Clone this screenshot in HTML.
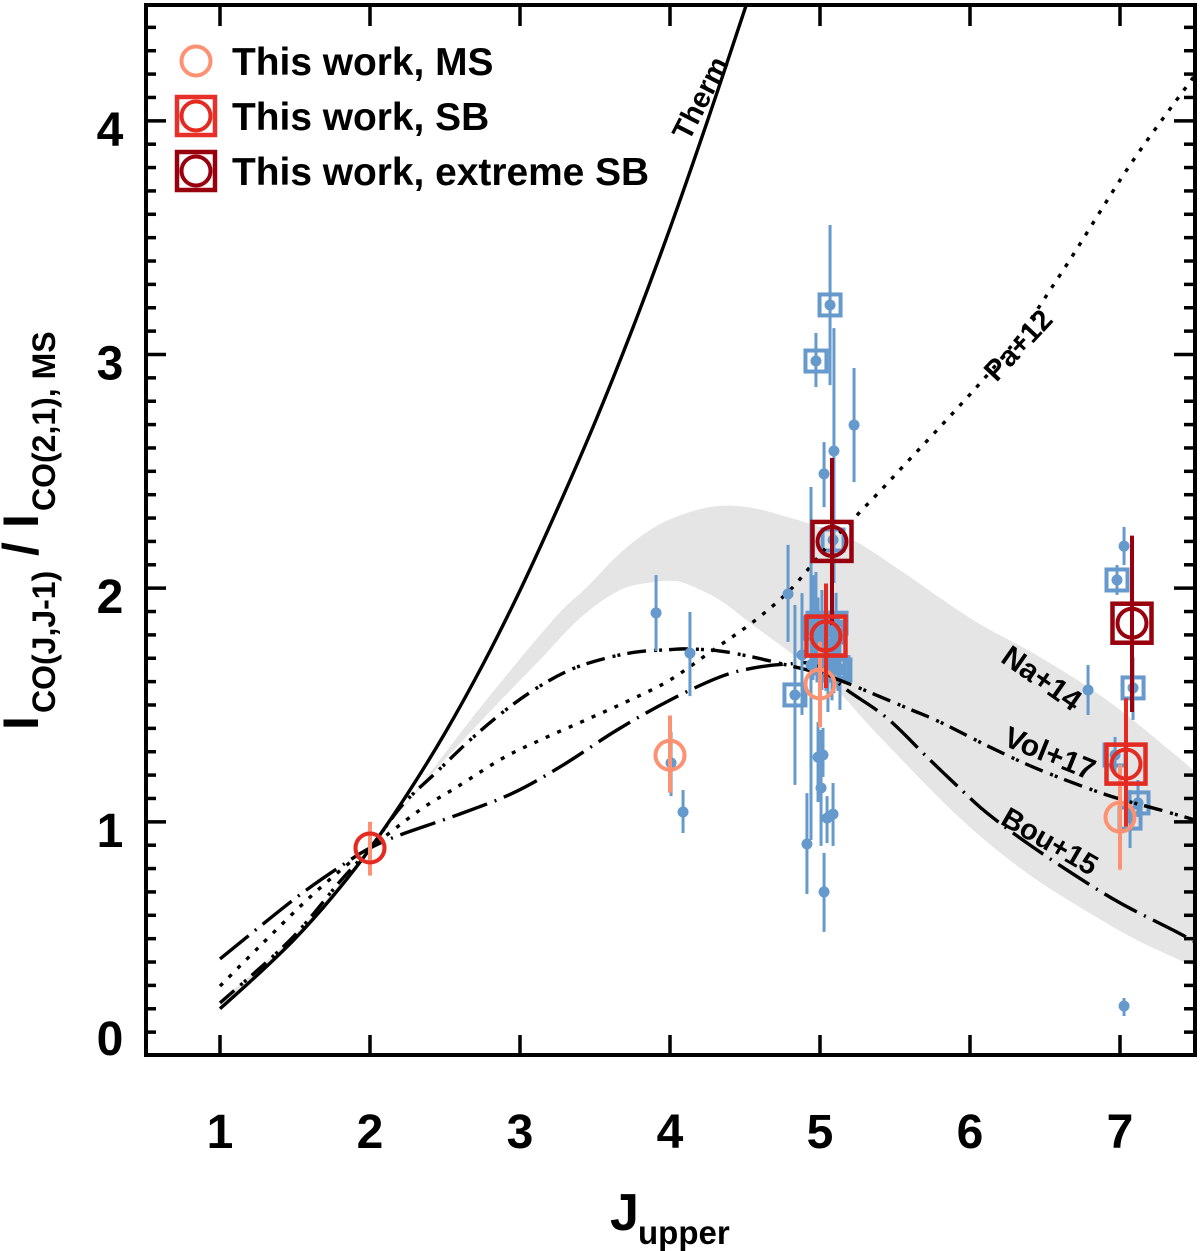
<!DOCTYPE html>
<html lang="en">
<head>
<meta charset="utf-8">
<title>CO line ratio chart</title>
<style>
html,body{margin:0;padding:0;background:#fff;width:1200px;height:1251px;overflow:hidden}
svg{display:block;font-family:"Liberation Sans",sans-serif;font-weight:bold}
</style>
</head>
<body>
<svg id="chart" xmlns="http://www.w3.org/2000/svg" width="1200" height="1251" viewBox="0 0 1200 1251">
  <defs><clipPath id="plot-clip"><rect x="146" y="5" width="1049" height="1050"/></clipPath></defs>
  <rect width="1200" height="1251" fill="#fff"/>
  <g id="band" clip-path="url(#plot-clip)"></g>
  <g id="blue-squares"></g>
  <g id="curves" clip-path="url(#plot-clip)"></g>
  <g id="blue-dots"></g>
  <g id="colored"></g>
  <g id="axes"></g>

  <g font-size="30" fill="#000" text-anchor="middle">
    <text transform="translate(700,98) rotate(-63)" dy="0.35em" font-size="29">Therm</text>
    <text transform="translate(1018,345) rotate(-47)" dy="0.35em" font-size="29">Pa+12</text>
    <text transform="translate(1042,678) rotate(35)" dy="0.35em">Na+14</text>
    <text transform="translate(1050,753) rotate(22)" dy="0.35em">Vol+17</text>
    <text transform="translate(1050,841) rotate(30)" dy="0.35em" font-size="29">Bou+15</text>
  </g>

  <g font-size="38.9" fill="#000">
    <g>
      <circle cx="196" cy="61" r="14.5" fill="none" stroke="#fc9272" stroke-width="4"/>
      <text x="232" y="75">This work, MS</text>
    </g>
    <g>
      <rect x="177" y="97" width="38" height="38" fill="none" stroke="#e8302a" stroke-width="4.5"/>
      <circle cx="196" cy="116" r="14.5" fill="none" stroke="#e32b22" stroke-width="4"/>
      <text x="232" y="130">This work, SB</text>
    </g>
    <g>
      <rect x="177" y="152" width="38" height="38" fill="none" stroke="#99000d" stroke-width="4.5"/>
      <circle cx="196" cy="171" r="14.5" fill="none" stroke="#99000d" stroke-width="4"/>
      <text x="232" y="185">This work, extreme SB</text>
    </g>
  </g>

  <g fill="#000">
    <text transform="translate(38,730) rotate(-90)" font-size="50">I</text>
    <text transform="translate(55,713) rotate(-90)" font-size="32">CO(J,J-1)</text>
    <text transform="translate(38,556) rotate(-90)" font-size="50">/</text>
    <text transform="translate(38,528) rotate(-90)" font-size="50">I</text>
    <text transform="translate(55,511) rotate(-90)" font-size="32">CO(2,1), MS</text>
  </g>
  <g fill="#000">
    <text x="610" y="1230" font-size="52">J</text>
    <text x="638" y="1244" font-size="33">upper</text>
  </g>
</svg>
<script>
// ---- axis tick data ----
var xTickLabels = [1, 2, 3, 4, 5, 6, 7];
var yTickLabels = [0, 1, 2, 3, 4];
var yMinorTicks = [0.1,0.2,0.3,0.4,0.5,0.6,0.7,0.8,0.9,1.1,1.2,1.3,1.4,1.5,1.6,1.7,1.8,1.9,2.1,2.2,2.3,2.4,2.5,2.6,2.7,2.8,2.9,3.1,3.2,3.3,3.4,3.5,3.6,3.7,3.8,3.9,4.1,4.2,4.3,4.4];

// ---- model curves: J values and ratios ----
var thermJ = [1,1.25,1.5,1.75,2,2.25,2.5,2.75,3,3.25,3.5,3.75,4,4.25,4.5,4.6];
var thermI = [0.2,0.345,0.5,0.68,0.885,1.12,1.38,1.67,1.99,2.34,2.71,3.11,3.54,4.0,4.48,4.68];

var volJ = [1,1.467,1.8,2,2.22,2.447,2.667,2.887,3.113,3.333,3.553,3.78,4.0,4.113,4.333,4.553,4.78,4.967,5.18,5.58,5.8,6.133,6.467,6.913,7.267,7.5];
var volI = [0.225,0.494,0.745,0.888,1.075,1.215,1.35,1.47,1.573,1.65,1.697,1.727,1.737,1.74,1.731,1.705,1.671,1.641,1.594,1.487,1.427,1.32,1.222,1.115,1.051,1.008];

var bouJ = [1,1.513,1.847,2,2.2,2.58,2.953,3.287,3.647,4.0,4.333,4.553,4.78,4.967,5.18,5.447,5.733,6.0,6.113,6.333,6.667,7.0,7.353,7.5];
var bouI = [0.413,0.678,0.828,0.888,0.944,1.029,1.123,1.243,1.393,1.521,1.62,1.658,1.675,1.671,1.564,1.444,1.265,1.102,1.038,0.931,0.785,0.653,0.537,0.486];

var paJ = [1,1.267,1.6,1.887,2,2.333,2.58,2.887,3.153,3.467,3.733,4.0,4.287,4.553,4.78,4.933,5.067,5.247,5.513,6.2,6.6,7.067,7.5];
var paI = [0.297,0.469,0.678,0.837,0.888,1.051,1.149,1.273,1.355,1.444,1.521,1.607,1.735,1.855,1.979,2.09,2.193,2.313,2.493,2.976,3.34,3.811,4.196];

var bandUpperJ = [1,1.5,2,2.287,2.733,3.22,3.447,3.667,3.887,4.113,4.333,4.553,4.78,4.933,5.22,5.533,6.02,6.467,6.913,7.353,7.5];
var bandUpperI = [0.23,0.52,0.888,1.115,1.487,1.864,2.005,2.15,2.257,2.322,2.352,2.343,2.305,2.275,2.206,2.077,1.864,1.705,1.521,1.295,1.213];
var bandLowerJ = [1,1.5,2,2.287,2.467,2.867,3.133,3.4,3.667,3.887,4,4.113,4.333,4.553,4.78,4.967,5.133,5.4,5.933,6.38,6.82,7.113,7.5];
var bandLowerI = [0.2,0.5,0.888,1.106,1.243,1.517,1.693,1.872,1.992,2.026,2.031,2.018,1.949,1.842,1.735,1.641,1.551,1.363,1.016,0.781,0.601,0.494,0.379];

// ---- literature points with error bars ----
var squareJ    = [5.067,4.973,6.98,7.087,6.967,7.12,7.067,4.833,4.953,5.013,5.08,5.053,5.133,5.087,4.987,5.047,5.107,5.093,5.12,5.04];
var squareI    = [3.212,2.972,2.035,1.573,1.286,1.081,1.016,1.543,1.829,1.8,1.812,1.65,1.65,2.206,1.85,1.76,1.85,1.66,1.66,1.68];
var squareHigh = [3.554,3.092,2.099,1.705,1.363,1.179,1.136,1.928,2.056,1.992,2.013,1.821,1.778,2.377,1.96,1.9,1.98,1.76,1.75,1.8];
var squareLow  = [2.869,2.861,1.971,1.436,1.2,1.021,0.888,1.158,1.607,1.564,1.607,1.47,1.479,2.022,1.7,1.62,1.72,1.55,1.56,1.56];

var dotJ    = [5.093,5.227,5.027,4.787,4.88,4.94,4.973,4.987,5.02,5.007,4.913,5.047,5.087,5.027,3.907,4.133,4.007,4.087,7.027,6.787,7.027,5.0,5.1,5.08];
var dotI    = [2.587,2.698,2.489,1.975,1.714,1.671,1.864,1.277,1.286,1.145,0.905,1.016,1.033,0.7,1.894,1.722,1.252,1.042,2.18,1.564,0.212,1.78,1.78,1.66];
var dotHigh = [3.113,2.942,2.625,2.185,1.979,2.433,2.069,1.427,1.402,1.393,1.123,1.11,1.166,0.867,2.056,1.898,1.384,1.136,2.262,1.671,0.246,1.9,1.9,1.78];
var dotLow  = [2.022,2.454,2.347,1.77,1.457,0.922,1.658,1.085,1.192,0.897,0.691,0.909,0.897,0.529,1.731,1.538,1.11,0.952,2.099,1.457,0.169,1.65,1.65,1.52];

// ---- this-work points ----
var msJ = [2, 4, 5, 7];
var msI = [0.888, 1.285, 1.59, 1.02];
var msHigh = [1.0, 1.455, 1.77, 1.244];
var msLow = [0.77, 1.125, 1.405, 0.795];

var sbJ = [2, 5.04, 7.04];
var sbI = [0.888, 1.795, 1.247];
var sbHigh = [0.888, 2.02, 1.529];
var sbLow = [0.888, 1.572, 0.98];

var xsbJ = [5.08, 7.08];
var xsbI = [2.2, 1.85];
var xsbHigh = [2.557, 2.225];
var xsbLow = [1.842, 1.47];

// ---- axis functions ----
function xScale(v) { return 220 + (v - 1) * 150; }
function yScale(v) { return 1055.5 - v * 233.67; }

var NS = 'http://www.w3.org/2000/svg';
function make(tag, parent) {
  var el = document.createElementNS(NS, tag);
  parent.appendChild(el);
  return el;
}
function smoothSegments(js, is) {
  var p = js.map(function (j, k) { return [xScale(j), yScale(is[k])]; });
  var d = '';
  for (var k = 0; k < p.length - 1; k++) {
    var a = p[Math.max(k - 1, 0)], b = p[k], c = p[k + 1], e = p[Math.min(k + 2, p.length - 1)];
    d += ' C' + (b[0] + (c[0] - a[0]) / 6).toFixed(2) + ',' + (b[1] + (c[1] - a[1]) / 6).toFixed(2) +
         ' ' + (c[0] - (e[0] - b[0]) / 6).toFixed(2) + ',' + (c[1] - (e[1] - b[1]) / 6).toFixed(2) +
         ' ' + c[0].toFixed(2) + ',' + c[1].toFixed(2);
  }
  return { start: p[0], segs: d };
}
function smoothPath(js, is) {
  var s = smoothSegments(js, is);
  return 'M' + s.start[0].toFixed(2) + ',' + s.start[1].toFixed(2) + s.segs;
}

// ---- band ----
var bandGroup = document.getElementById('band');
var bandEl = make('path', bandGroup);


var revJ = bandLowerJ.slice().reverse();
var revI = bandLowerI.slice().reverse();
var lowerSeg = smoothSegments(revJ, revI);
bandEl.setAttribute('d', smoothPath(bandUpperJ, bandUpperI) + ' L' + lowerSeg.start[0].toFixed(2) + ',' + lowerSeg.start[1].toFixed(2) + lowerSeg.segs + ' Z');
bandEl.setAttribute('fill', '#e5e5e5');

// ---- literature squares ----
var BLUE = '#6699cc';
var sqGroup = document.getElementById('blue-squares');
squareJ.forEach(function (j, k) {
  var g = make('g', sqGroup);
  
  
  var cx = xScale(j), cy = yScale(squareI[k]);
  var bar = make('line', g);
  bar.setAttribute('x1', cx); bar.setAttribute('x2', cx);
  bar.setAttribute('y1', yScale(squareHigh[k])); bar.setAttribute('y2', yScale(squareLow[k]));
  bar.setAttribute('stroke', BLUE); bar.setAttribute('stroke-width', 3);
  var box = make('rect', g);
  box.setAttribute('x', cx - 10.5); box.setAttribute('y', cy - 10.5);
  box.setAttribute('width', 21); box.setAttribute('height', 21);
  box.setAttribute('fill', 'none'); box.setAttribute('stroke', BLUE); box.setAttribute('stroke-width', 4);
  var dot = make('circle', g);
  dot.setAttribute('cx', cx); dot.setAttribute('cy', cy); dot.setAttribute('r', 5.5);
  dot.setAttribute('fill', BLUE);
});

// ---- curves ----
var curvesGroup = document.getElementById('curves');
function addCurve(js, is, dash) {
  var path = make('path', curvesGroup);
  path.setAttribute('d', smoothPath(js, is));
  path.setAttribute('fill', 'none');
  path.setAttribute('stroke', '#000');
  path.setAttribute('stroke-width', 3.4);
  if (dash) path.setAttribute('stroke-dasharray', dash);
  return path;
}
var thermEl = addCurve(thermJ, thermI, null);


var volEl = addCurve(volJ, volI, '19 8 3 2 3 7');


var bouEl = addCurve(bouJ, bouI, '37 8 2 8');


var paEl = addCurve(paJ, paI, '4 8.5');



// ---- literature dots ----
var dotGroup = document.getElementById('blue-dots');
dotJ.forEach(function (j, k) {
  var g = make('g', dotGroup);
  
  
  var cx = xScale(j), cy = yScale(dotI[k]);
  var bar = make('line', g);
  bar.setAttribute('x1', cx); bar.setAttribute('x2', cx);
  bar.setAttribute('y1', yScale(dotHigh[k])); bar.setAttribute('y2', yScale(dotLow[k]));
  bar.setAttribute('stroke', BLUE); bar.setAttribute('stroke-width', 3);
  var dot = make('circle', g);
  dot.setAttribute('cx', cx); dot.setAttribute('cy', cy); dot.setAttribute('r', 5.5);
  dot.setAttribute('fill', BLUE);
});

// ---- this-work series ----
var colGroup = document.getElementById('colored');
function addSeries(js, is, hi, lo, color, withSquare, skipSquareFirst) {
  js.forEach(function (j, k) {
    var g = make('g', colGroup);
    
    
    var cx = xScale(j), cy = yScale(is[k]);
    if (hi[k] !== lo[k]) {
      var bar = make('line', g);
      bar.setAttribute('x1', cx); bar.setAttribute('x2', cx);
      bar.setAttribute('y1', yScale(hi[k])); bar.setAttribute('y2', yScale(lo[k]));
      bar.setAttribute('stroke', color); bar.setAttribute('stroke-width', 4);
    }
    if (withSquare && !(skipSquareFirst && k === 0)) {
      var box = make('rect', g);
      box.setAttribute('x', cx - 19.5); box.setAttribute('y', cy - 19.5);
      box.setAttribute('width', 39); box.setAttribute('height', 39);
      box.setAttribute('fill', 'none'); box.setAttribute('stroke', color); box.setAttribute('stroke-width', 4.5);
    }
    var ring = make('circle', g);
    ring.setAttribute('cx', cx); ring.setAttribute('cy', cy); ring.setAttribute('r', 14.5);
    ring.setAttribute('fill', 'none'); ring.setAttribute('stroke', color); ring.setAttribute('stroke-width', 4);
  });
}
addSeries(xsbJ, xsbI, xsbHigh, xsbLow, '#99000d', true, false);
addSeries(msJ, msI, msHigh, msLow, '#fc9272', false, false);
addSeries(sbJ, sbI, sbHigh, sbLow, '#e32b22', true, true);

// ---- axes ----
var axesGroup = document.getElementById('axes');
var frame = make('rect', axesGroup);


frame.setAttribute('x', 146); frame.setAttribute('y', 5);
frame.setAttribute('width', 1049); frame.setAttribute('height', 1050);
frame.setAttribute('fill', 'none'); frame.setAttribute('stroke', '#000'); frame.setAttribute('stroke-width', 4);

function tick(x1, y1, x2, y2) {
  var t = make('line', axesGroup);
  
  
  t.setAttribute('x1', x1); t.setAttribute('y1', y1);
  t.setAttribute('x2', x2); t.setAttribute('y2', y2);
  t.setAttribute('stroke', '#000'); t.setAttribute('stroke-width', 3.5);
}
xTickLabels.forEach(function (v) {
  var x = xScale(v);
  tick(x, 1055, x, 1035);
  tick(x, 5, x, 26);
  var label = make('text', axesGroup);
  
  
  label.setAttribute('x', x); label.setAttribute('y', 1148);
  label.setAttribute('text-anchor', 'middle');
  label.setAttribute('font-size', 48);
  label.textContent = v;
});
yTickLabels.forEach(function (v) {
  var y = yScale(v);
  if (v > 0) {
    tick(146, y, 166, y);
    tick(1195, y, 1174, y);
  }
  var label = make('text', axesGroup);
  
  
  label.setAttribute('x', 110);
  label.setAttribute('y', v === 0 ? 1055 : y + 25);
  label.setAttribute('text-anchor', 'middle');
  label.setAttribute('font-size', 48);
  label.textContent = v;
});
yMinorTicks.forEach(function (v) {
  var y = yScale(v);
  tick(146, y, 156, y);
  tick(1195, y, 1184, y);
});
</script>
</body>
</html>
